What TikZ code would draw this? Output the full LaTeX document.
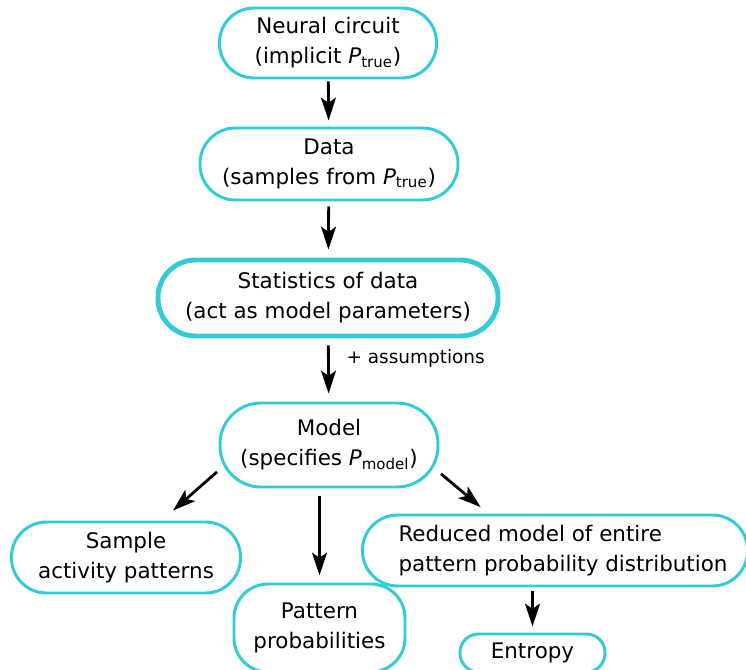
\documentclass[tikz,border=0pt]{standalone}
\usepackage{fontspec}
\setmainfont{DejaVu Sans}
\usepackage{tikz}
\usetikzlibrary{arrows.meta}
\definecolor{boxcolor}{RGB}{51,204,214}
\tikzset{
	box/.style={rectangle,draw=boxcolor,line width=1.7pt,rounded corners=0.69cm,align=center,
		font=\fontsize{12.2}{17}\selectfont,inner sep=0pt},
	boxthick/.style={box,line width=2.8pt},
	flow/.style={->,line width=1.6pt},
	labl/.style={font=\fontsize{10.5}{13}\selectfont,inner sep=1pt},
	>={Stealth[length=13pt,width=8.5pt,inset=3pt]},
	}
\newcommand{\Psub}[1]{{\itshape P}\textsubscript{#1}}
\newcommand{\indnt}{\hspace*{0.32cm}}

\begin{document}
\begin{tikzpicture}
\useasboundingbox (0,0) rectangle (14.92,-13.4);

\node (circuit) at (6.56,-0.86) [box,minimum width=4.34cm,minimum height=1.40cm] {Neural circuit\\(implicit \Psub{true})};
\node (data) at (6.58,-3.28) [box,minimum width=5.16cm,minimum height=1.44cm,rounded corners=0.71cm] {Data\\(samples from \Psub{true})};
\node (stats) at (6.56,-5.96) [boxthick,minimum width=6.8cm,minimum height=1.52cm,rounded corners=0.75cm] {Statistics of data\\(act as model parameters)};
\node (model) at (6.58,-8.9) [box,minimum width=4.36cm,minimum height=1.68cm,rounded corners=0.82cm] {Model\\(specifies \Psub{model})};
\node (sample) at (2.52,-11.15) [box,minimum width=4.58cm,minimum height=1.42cm,rounded corners=0.7cm] {Sample\\activity patterns};
\node (patprob) at (6.39,-12.56) [box,minimum width=3.42cm,minimum height=1.76cm,rounded corners=0.68cm] {Pattern\\probabilities};
\node (reduced) at (11.1,-11.01) [box,minimum width=7.7cm,minimum height=1.42cm,rounded corners=0.7cm,align=left] {\indnt Reduced model of entire\\\indnt pattern probability distribution};
\node (entropy) at (10.65,-13.06) [box,minimum width=2.9cm,minimum height=0.76cm,rounded corners=0.37cm] {Entropy};

 \draw [flow,shorten <=0.04cm,shorten >=0.12cm] (circuit) -- (data);
 \draw [flow,shorten <=0.1cm,shorten >=0.16cm] (data) -- (stats);
 \draw [flow,shorten <=0.14cm,shorten >=0.16cm] (stats) -- node[labl,pos=0.31,right=0.3cm] {+ assumptions} (model);
 \draw [flow,shorten <=0.04cm,shorten >=0.3cm] (model.193) -- (sample.46);
 \draw [flow,shorten <=0.16cm,shorten >=0.14cm] (model.south -| patprob.north) -- (patprob.north);
 \draw [flow,shorten <=0.04cm,shorten >=0.2cm] (model.-14) -- (reduced.151);
 \draw [flow,shorten <=0.08cm,shorten >=0.12cm] (reduced.south -| entropy.north) -- (entropy.north);
\end{tikzpicture}
\end{document}
